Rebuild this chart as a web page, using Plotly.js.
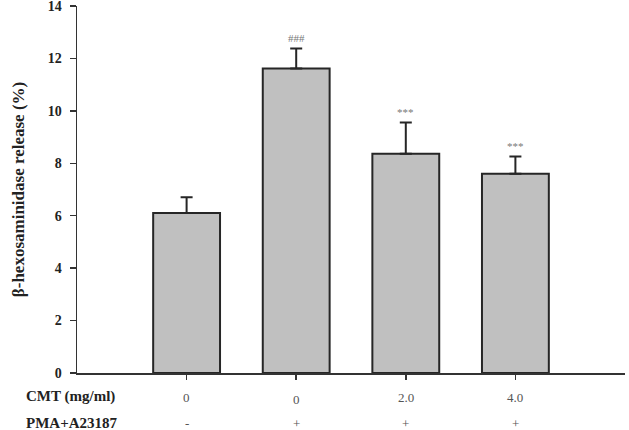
<!DOCTYPE html>
<html>
<head>
<meta charset="utf-8">
<script src="https://cdn.plot.ly/plotly-3.0.1.min.js"></script>
<style>
  html, body { margin: 0; padding: 0; background: #fff; }
  #chart { width: 629px; height: 430px; }
</style>
</head>
<body>
<div id="chart"></div>
<script>
// Group positions and measured β-hexosaminidase release (%)
const groups = [0, 1, 2, 3];
const release = [6.1, 11.62, 8.36, 7.6];
const releaseSem = [0.6, 0.76, 1.2, 0.66];
const signif = ["", "###", "***", "***"];

// Treatment rows below the axis
const cmtLabels = ["0", "0", "2.0", "4.0"];
const pmaLabels = ["-", "+", "+", "+"];
const rowTitles = ["CMT (mg/ml)", "PMA+A23187"];

const serif = "Liberation Serif, Times New Roman, serif";

const bars = {
  type: "bar",
  x: groups,
  y: release,
  width: 0.61,
  marker: { color: "#c0c0c0", line: { color: "#262626", width: 2 } },
  error_y: {
    type: "data",
    symmetric: false,
    array: releaseSem,
    arrayminus: release.map(() => 0),
    color: "#262626",
    thickness: 2,
    width: 6
  },
  hoverinfo: "none"
};

const annotations = [];
groups.forEach((g, i) => {
  if (signif[i]) {
    annotations.push({
      x: g, y: release[i] + releaseSem[i], xref: "x", yref: "y",
      text: signif[i], showarrow: false, yanchor: "bottom", yshift: 2,
      font: { family: serif, size: 11, color: "#777" }
    });
  }
  annotations.push({
    x: g, y: i === 1 ? -0.073 : -0.066, xref: "x", yref: "paper",
    text: cmtLabels[i], showarrow: false, yanchor: "middle",
    font: { family: serif, size: 13, color: "#555" }
  });
  annotations.push({
    x: g, y: -0.138, xref: "x", yref: "paper",
    text: pmaLabels[i], showarrow: false, yanchor: "middle",
    font: { family: serif, size: 13, color: "#555" }
  });
});
rowTitles.forEach((t, k) => {
  annotations.push({
    x: -0.097, y: k === 0 ? -0.064 : -0.136, xref: "paper", yref: "paper",
    xanchor: "left", text: "<b>" + t + "</b>", showarrow: false, yanchor: "middle",
    font: { family: serif, size: 15, color: "#222" }
  });
});

const layout = {
  width: 629,
  height: 430,
  margin: { l: 77, r: 4, t: 6, b: 57 },
  paper_bgcolor: "#fff",
  plot_bgcolor: "#fff",
  showlegend: false,
  xaxis: {
    range: [-1, 4],
    tickvals: groups,
    showticklabels: false,
    ticks: "outside",
    ticklen: 5,
    tickwidth: 1.5,
    tickcolor: "#333",
    showline: true,
    linecolor: "#333",
    linewidth: 1.5,
    showgrid: false,
    zeroline: false,
    fixedrange: true
  },
  yaxis: {
    range: [0, 14],
    dtick: 2,
    ticks: "outside",
    ticklen: 6,
    tickwidth: 1.5,
    tickcolor: "#333",
    ticklabelstandoff: 5,
    ticklabeloverflow: "allow",
    showline: true,
    linecolor: "#333",
    linewidth: 1.5,
    showgrid: false,
    zeroline: false,
    tickfont: { family: serif, size: 14, color: "#222", weight: "bold" },
    title: {
      text: "<b>β-hexosaminidase release (%)</b>",
      font: { family: serif, size: 17, color: "#222" },
      standoff: 19
    },
    fixedrange: true
  },
  annotations: annotations
};

Plotly.newPlot("chart", [bars], layout, { displayModeBar: false, staticPlot: true });
</script>
</body>
</html>
